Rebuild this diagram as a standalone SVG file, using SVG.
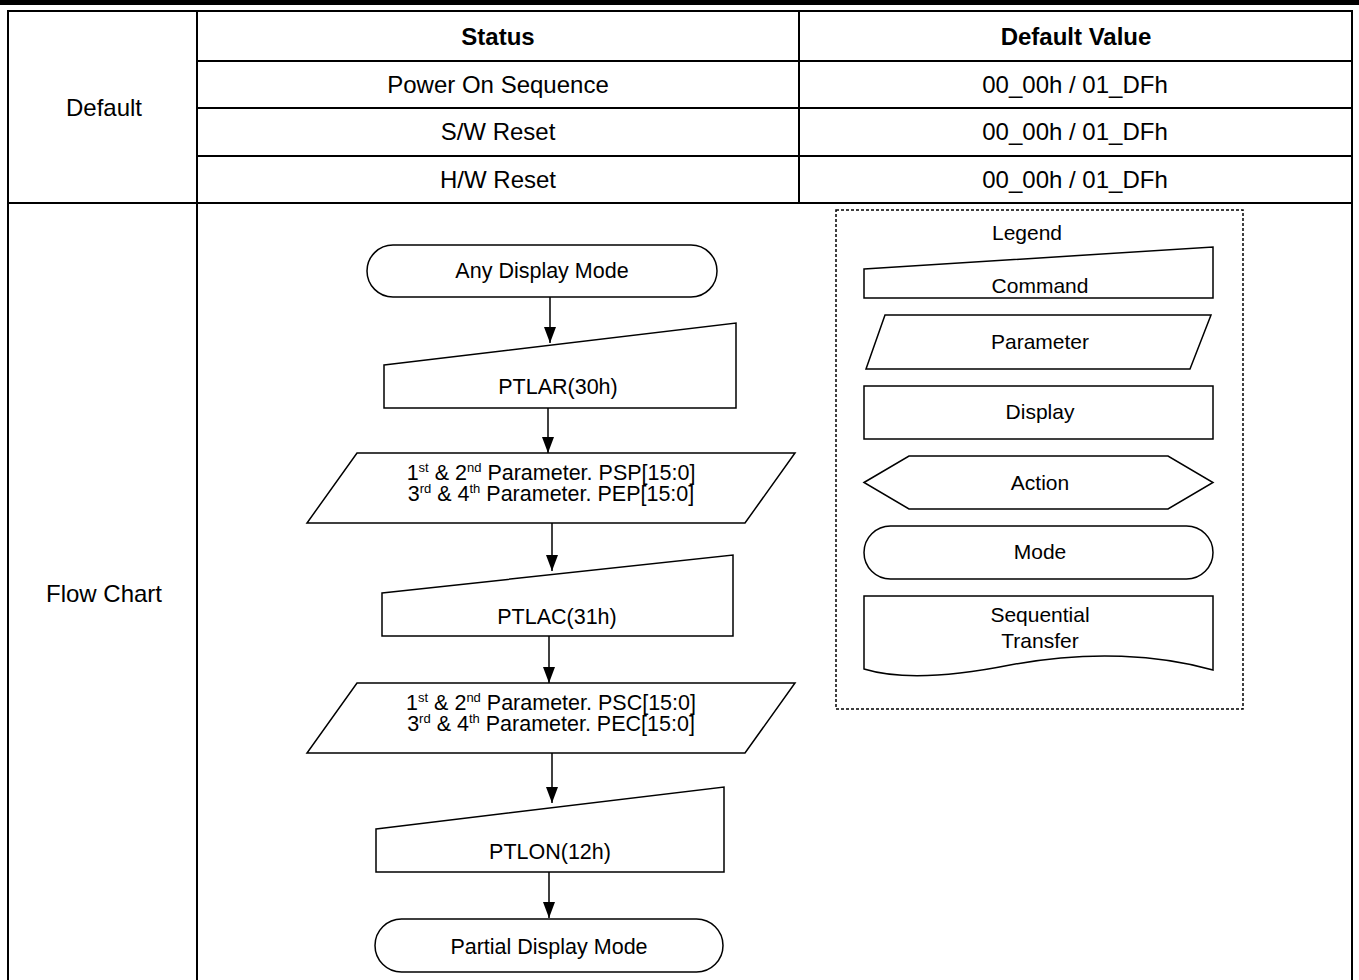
<svg xmlns="http://www.w3.org/2000/svg" width="1359" height="980" viewBox="0 0 1359 980">
<style>
text{font-family:"Liberation Sans",Arial,sans-serif;font-size:21.5px;fill:#000;text-anchor:middle}
.t{font-size:24px}
.b{font-weight:bold}
.lg{font-size:21px}
.tl{stroke:#000;stroke-width:2;fill:none}
.sh{stroke:#000;stroke-width:1.5;fill:#fff}
.cn{stroke:#000;stroke-width:1.5;fill:none}
.sup{font-size:13px}
</style>
<defs>
<marker id="arr" viewBox="0 0 16 12" refX="16" refY="6" markerWidth="16" markerHeight="12" markerUnits="userSpaceOnUse" orient="auto">
<path d="M0 0 L16 6 L0 12 Z" fill="#000"/>
</marker>
</defs>
<rect width="1359" height="980" fill="#fff"/>
<rect x="0" y="0" width="1359" height="5" fill="#000"/>
<g id="table">
<rect class="tl" x="8" y="11" width="1344" height="975"/>
<line class="tl" x1="197" y1="11" x2="197" y2="980"/>
<line class="tl" x1="799" y1="11" x2="799" y2="203"/>
<line class="tl" x1="197" y1="61" x2="1352" y2="61"/>
<line class="tl" x1="197" y1="108" x2="1352" y2="108"/>
<line class="tl" x1="197" y1="156" x2="1352" y2="156"/>
<line class="tl" x1="8" y1="203" x2="1352" y2="203"/>
<text class="t b" x="498" y="45">Status</text>
<text class="t b" x="1076" y="45">Default Value</text>
<text class="t" x="498" y="92.5">Power On Sequence</text>
<text class="t" x="1075" y="92.5">00_00h / 01_DFh</text>
<text class="t" x="498" y="140">S/W Reset</text>
<text class="t" x="1075" y="140">00_00h / 01_DFh</text>
<text class="t" x="498" y="188">H/W Reset</text>
<text class="t" x="1075" y="188">00_00h / 01_DFh</text>
<text class="t" x="104" y="116">Default</text>
<text class="t" x="104" y="602">Flow Chart</text>
</g>
<g id="connectors">
<line class="cn" x1="550" y1="297" x2="550" y2="343" marker-end="url(#arr)"/>
<line class="cn" x1="548" y1="408" x2="548" y2="453" marker-end="url(#arr)"/>
<line class="cn" x1="552" y1="523" x2="552" y2="571" marker-end="url(#arr)"/>
<line class="cn" x1="549" y1="636" x2="549" y2="683" marker-end="url(#arr)"/>
<line class="cn" x1="552" y1="753" x2="552" y2="803" marker-end="url(#arr)"/>
<line class="cn" x1="549" y1="872" x2="549" y2="918" marker-end="url(#arr)"/>
</g>
<g id="any-display-mode">
<rect class="sh" x="367" y="245" width="350" height="52" rx="26"/>
<text x="542" y="278">Any Display Mode</text>
</g>
<g id="ptlar">
<path class="sh" d="M384 365 L736 323 L736 408 L384 408 Z"/>
<text x="558" y="394">PTLAR(30h)</text>
</g>
<g id="param1">
<path class="sh" d="M357 453 L795 453 L745 523 L307 523 Z"/>
<text x="551" y="479.5">1<tspan class="sup" dy="-8">st</tspan><tspan dy="8"> &amp; 2</tspan><tspan class="sup" dy="-8">nd</tspan><tspan dy="8"> Parameter. PSP[15:0]</tspan></text>
<text x="551" y="501">3<tspan class="sup" dy="-8">rd</tspan><tspan dy="8"> &amp; 4</tspan><tspan class="sup" dy="-8">th</tspan><tspan dy="8"> Parameter. PEP[15:0]</tspan></text>
</g>
<g id="ptlac">
<path class="sh" d="M382 593 L733 555 L733 636 L382 636 Z"/>
<text x="557" y="624">PTLAC(31h)</text>
</g>
<g id="param2">
<path class="sh" d="M357 683 L795 683 L745 753 L307 753 Z"/>
<text x="551" y="709.5">1<tspan class="sup" dy="-8">st</tspan><tspan dy="8"> &amp; 2</tspan><tspan class="sup" dy="-8">nd</tspan><tspan dy="8"> Parameter. PSC[15:0]</tspan></text>
<text x="551" y="731">3<tspan class="sup" dy="-8">rd</tspan><tspan dy="8"> &amp; 4</tspan><tspan class="sup" dy="-8">th</tspan><tspan dy="8"> Parameter. PEC[15:0]</tspan></text>
</g>
<g id="ptlon">
<path class="sh" d="M376 829 L724 787 L724 872 L376 872 Z"/>
<text x="550" y="859">PTLON(12h)</text>
</g>
<g id="partial-display-mode">
<rect class="sh" x="375" y="919" width="348" height="53" rx="26.5"/>
<text x="549" y="954">Partial Display Mode</text>
</g>
<g id="legend">
<rect x="836" y="210" width="407" height="499" fill="none" stroke="#000" stroke-width="1.5" stroke-dasharray="3 2"/>
<text class="lg" x="1027" y="240">Legend</text>
<g id="legend-command">
<path class="sh" d="M864 269 L1213 247 L1213 298 L864 298 Z"/>
<text class="lg" x="1040" y="293">Command</text>
</g>
<g id="legend-parameter">
<path class="sh" d="M885 315 L1211 315 L1190 369 L866 369 Z"/>
<text class="lg" x="1040" y="349">Parameter</text>
</g>
<g id="legend-display">
<rect class="sh" x="864" y="386" width="349" height="53"/>
<text class="lg" x="1040" y="419">Display</text>
</g>
<g id="legend-action">
<path class="sh" d="M864 482.5 L909 456 L1168 456 L1213 482.5 L1168 509 L909 509 Z"/>
<text class="lg" x="1040" y="490">Action</text>
</g>
<g id="legend-mode">
<rect class="sh" x="864" y="526" width="349" height="53" rx="26.5"/>
<text class="lg" x="1040" y="559">Mode</text>
</g>
<g id="legend-sequential">
<path class="sh" d="M864 596 L1213 596 L1213 670 C1160 655 1090 650 1010 665 C950 677 900 680 864 669 Z"/>
<text class="lg" x="1040" y="622">Sequential</text>
<text class="lg" x="1040" y="648">Transfer</text>
</g>
</g>
</svg>
